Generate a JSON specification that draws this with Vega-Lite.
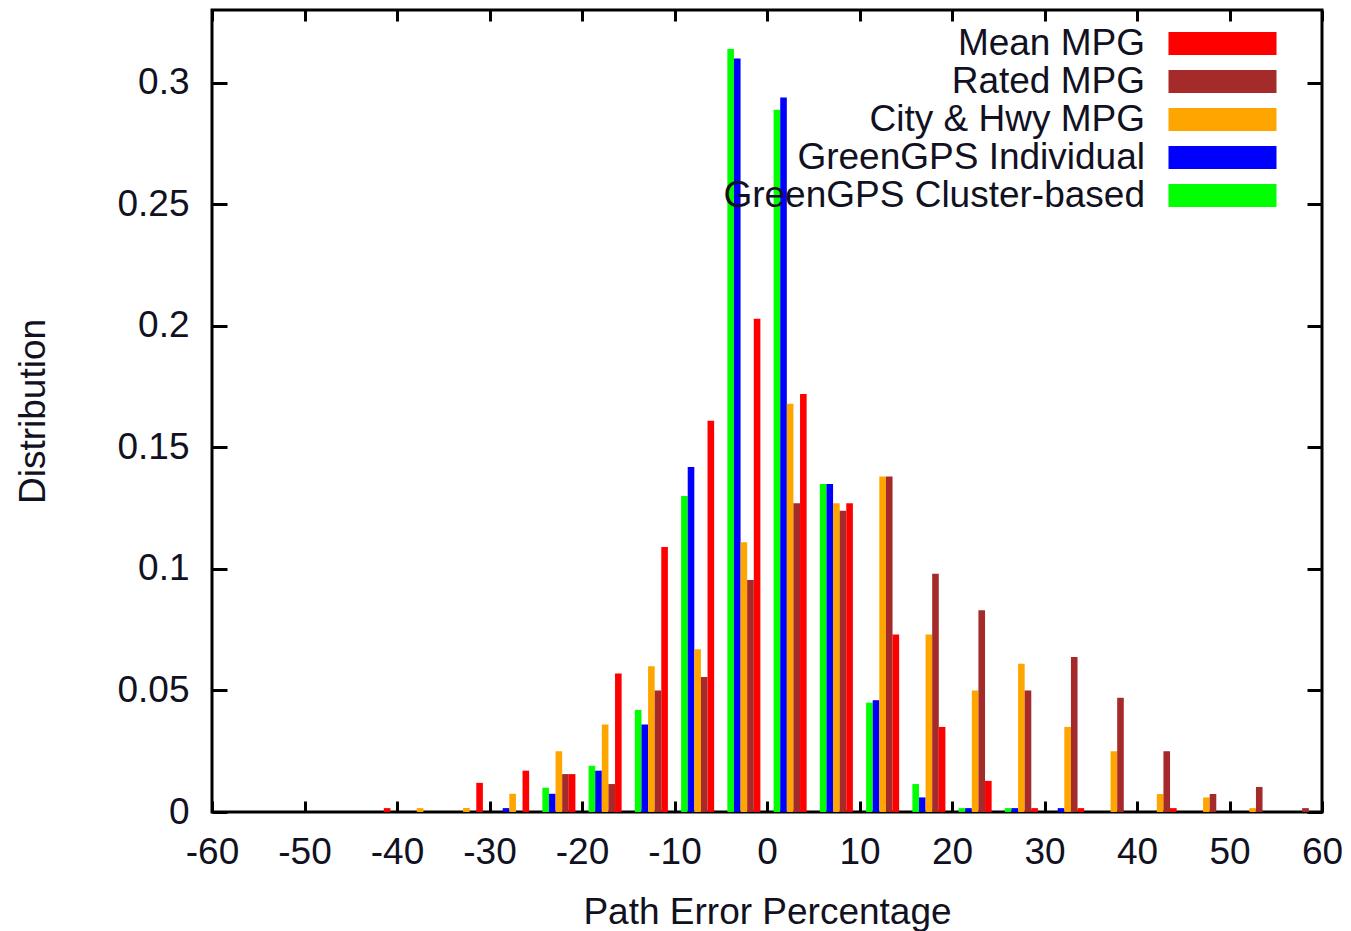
{
  "$schema": "https://vega.github.io/schema/vega-lite/v6.json",
  "width": 1110,
  "height": 802,
  "autosize": {"type": "none"},
  "padding": {"left": 212, "top": 10, "right": 29, "bottom": 119},
  "background": "white",
  "config": {
    "view": {"stroke": "black", "strokeWidth": 3},
    "font": "Liberation Sans",
    "axis": {"labelFont": "Liberation Sans", "titleFont": "Liberation Sans", "labelFontSize": 37, "titleFontSize": 37, "titleFontWeight": "normal", "labelColor": "#111122", "titleColor": "#111122", "domain": false, "grid": false, "tickColor": "black", "tickWidth": 3}
  },
  "data": {
    "values": [
      {"bin": -42.5, "series": "Mean MPG", "v": 0.0016},
      {"bin": -37.5, "series": "City & Hwy MPG", "v": 0.0016},
      {"bin": -32.5, "series": "City & Hwy MPG", "v": 0.0016},
      {"bin": -32.5, "series": "Mean MPG", "v": 0.012},
      {"bin": -27.5, "series": "GreenGPS Individual", "v": 0.0016},
      {"bin": -27.5, "series": "City & Hwy MPG", "v": 0.0075},
      {"bin": -27.5, "series": "Mean MPG", "v": 0.017},
      {"bin": -22.5, "series": "GreenGPS Cluster-based", "v": 0.010},
      {"bin": -22.5, "series": "GreenGPS Individual", "v": 0.0075},
      {"bin": -22.5, "series": "City & Hwy MPG", "v": 0.025},
      {"bin": -22.5, "series": "Rated MPG", "v": 0.0156},
      {"bin": -22.5, "series": "Mean MPG", "v": 0.0156},
      {"bin": -17.5, "series": "GreenGPS Cluster-based", "v": 0.019},
      {"bin": -17.5, "series": "GreenGPS Individual", "v": 0.017},
      {"bin": -17.5, "series": "City & Hwy MPG", "v": 0.036},
      {"bin": -17.5, "series": "Rated MPG", "v": 0.0115},
      {"bin": -17.5, "series": "Mean MPG", "v": 0.057},
      {"bin": -12.5, "series": "GreenGPS Cluster-based", "v": 0.042},
      {"bin": -12.5, "series": "GreenGPS Individual", "v": 0.036},
      {"bin": -12.5, "series": "City & Hwy MPG", "v": 0.060},
      {"bin": -12.5, "series": "Rated MPG", "v": 0.050},
      {"bin": -12.5, "series": "Mean MPG", "v": 0.109},
      {"bin": -7.5, "series": "GreenGPS Cluster-based", "v": 0.130},
      {"bin": -7.5, "series": "GreenGPS Individual", "v": 0.142},
      {"bin": -7.5, "series": "City & Hwy MPG", "v": 0.067},
      {"bin": -7.5, "series": "Rated MPG", "v": 0.0556},
      {"bin": -7.5, "series": "Mean MPG", "v": 0.161},
      {"bin": -2.5, "series": "GreenGPS Cluster-based", "v": 0.314},
      {"bin": -2.5, "series": "GreenGPS Individual", "v": 0.310},
      {"bin": -2.5, "series": "City & Hwy MPG", "v": 0.111},
      {"bin": -2.5, "series": "Rated MPG", "v": 0.0955},
      {"bin": -2.5, "series": "Mean MPG", "v": 0.203},
      {"bin": 2.5, "series": "GreenGPS Cluster-based", "v": 0.289},
      {"bin": 2.5, "series": "GreenGPS Individual", "v": 0.294},
      {"bin": 2.5, "series": "City & Hwy MPG", "v": 0.168},
      {"bin": 2.5, "series": "Rated MPG", "v": 0.127},
      {"bin": 2.5, "series": "Mean MPG", "v": 0.172},
      {"bin": 7.5, "series": "GreenGPS Cluster-based", "v": 0.135},
      {"bin": 7.5, "series": "GreenGPS Individual", "v": 0.135},
      {"bin": 7.5, "series": "City & Hwy MPG", "v": 0.127},
      {"bin": 7.5, "series": "Rated MPG", "v": 0.124},
      {"bin": 7.5, "series": "Mean MPG", "v": 0.127},
      {"bin": 12.5, "series": "GreenGPS Cluster-based", "v": 0.045},
      {"bin": 12.5, "series": "GreenGPS Individual", "v": 0.046},
      {"bin": 12.5, "series": "City & Hwy MPG", "v": 0.138},
      {"bin": 12.5, "series": "Rated MPG", "v": 0.138},
      {"bin": 12.5, "series": "Mean MPG", "v": 0.073},
      {"bin": 17.5, "series": "GreenGPS Cluster-based", "v": 0.0115},
      {"bin": 17.5, "series": "GreenGPS Individual", "v": 0.006},
      {"bin": 17.5, "series": "City & Hwy MPG", "v": 0.073},
      {"bin": 17.5, "series": "Rated MPG", "v": 0.098},
      {"bin": 17.5, "series": "Mean MPG", "v": 0.035},
      {"bin": 22.5, "series": "GreenGPS Cluster-based", "v": 0.0016},
      {"bin": 22.5, "series": "GreenGPS Individual", "v": 0.0016},
      {"bin": 22.5, "series": "City & Hwy MPG", "v": 0.050},
      {"bin": 22.5, "series": "Rated MPG", "v": 0.083},
      {"bin": 22.5, "series": "Mean MPG", "v": 0.0128},
      {"bin": 27.5, "series": "GreenGPS Cluster-based", "v": 0.0016},
      {"bin": 27.5, "series": "GreenGPS Individual", "v": 0.0016},
      {"bin": 27.5, "series": "City & Hwy MPG", "v": 0.061},
      {"bin": 27.5, "series": "Rated MPG", "v": 0.050},
      {"bin": 27.5, "series": "Mean MPG", "v": 0.0016},
      {"bin": 32.5, "series": "GreenGPS Individual", "v": 0.0016},
      {"bin": 32.5, "series": "City & Hwy MPG", "v": 0.035},
      {"bin": 32.5, "series": "Rated MPG", "v": 0.0638},
      {"bin": 32.5, "series": "Mean MPG", "v": 0.0016},
      {"bin": 37.5, "series": "City & Hwy MPG", "v": 0.025},
      {"bin": 37.5, "series": "Rated MPG", "v": 0.047},
      {"bin": 42.5, "series": "City & Hwy MPG", "v": 0.0074},
      {"bin": 42.5, "series": "Rated MPG", "v": 0.025},
      {"bin": 42.5, "series": "Mean MPG", "v": 0.0016},
      {"bin": 47.5, "series": "City & Hwy MPG", "v": 0.006},
      {"bin": 47.5, "series": "Rated MPG", "v": 0.0074},
      {"bin": 52.5, "series": "City & Hwy MPG", "v": 0.0016},
      {"bin": 52.5, "series": "Rated MPG", "v": 0.0103},
      {"bin": 57.5, "series": "Rated MPG", "v": 0.0016}
    ]
  },
  "layer": [
    {
      "mark": {"type": "bar"},
      "encoding": {
        "x": {"field": "bin", "type": "ordinal", "axis": null,
              "scale": {"domain": [-57.5, -52.5, -47.5, -42.5, -37.5, -32.5, -27.5, -22.5, -17.5, -12.5, -7.5, -2.5, 2.5, 7.5, 12.5, 17.5, 22.5, 27.5, 32.5, 37.5, 42.5, 47.5, 52.5, 57.5], "paddingInner": 0, "paddingOuter": 0}},
        "xOffset": {"field": "series", "type": "nominal",
              "scale": {"domain": ["GreenGPS Cluster-based", "GreenGPS Individual", "City & Hwy MPG", "Rated MPG", "Mean MPG"], "paddingInner": 0, "paddingOuter": 1.07}},
        "y": {"field": "v", "type": "quantitative", "axis": null, "scale": {"domain": [0, 0.33], "nice": false, "zero": true}},
        "color": {"field": "series", "type": "nominal",
              "scale": {"domain": ["Mean MPG", "Rated MPG", "City & Hwy MPG", "GreenGPS Individual", "GreenGPS Cluster-based"], "range": ["#ff0000", "#a52a2a", "#ffa500", "#0000ff", "#00ff00"]},
              "legend": {"orient": "none", "legendX": 992, "legendY": 15, "zindex": 0, "title": null, "symbolType": "M-5,-1.065H5V1.065H-5Z", "symbolSize": 466.6, "symbolStrokeWidth": 0, "symbolOpacity": 1, "labelAlign": "right", "labelOffset": -96, "labelFontSize": 37, "labelFont": "Liberation Sans", "labelColor": "#111122", "labelLimit": 0, "rowPadding": 0, "padding": 0}}
      }
    },
    {
      "mark": {"type": "point", "opacity": 0},
      "encoding": {
        "x": {"field": "bin", "type": "quantitative",
              "scale": {"domain": [-60, 60], "nice": false, "zero": false},
              "axis": {"orient": "bottom", "title": "Path Error Percentage", "values": [-60, -50, -40, -30, -20, -10, 0, 10, 20, 30, 40, 50, 60], "labelExpr": "datum.value + ''", "tickSize": -11, "labelPadding": 33, "titlePadding": 24, "labelFlush": false, "labelOverlap": false}},
        "y": {"field": "v", "type": "quantitative",
              "scale": {"domain": [0, 0.33], "nice": false, "zero": true},
              "axis": {"orient": "left", "title": "Distribution", "values": [0, 0.05, 0.1, 0.15, 0.2, 0.25, 0.3], "format": "~g", "tickSize": -15, "labelPadding": 38, "titlePadding": 64, "labelFlush": false, "labelOverlap": false}}
      }
    },
    {
      "mark": {"type": "point", "opacity": 0},
      "encoding": {
        "x": {"field": "bin", "type": "quantitative",
              "scale": {"domain": [-60, 60], "nice": false, "zero": false},
              "axis": {"orient": "top", "title": null, "labels": false, "values": [-60, -50, -40, -30, -20, -10, 0, 10, 20, 30, 40, 50, 60], "tickSize": -11}},
        "y": {"field": "v", "type": "quantitative",
              "scale": {"domain": [0, 0.33], "nice": false, "zero": true},
              "axis": {"orient": "right", "title": null, "labels": false, "values": [0, 0.05, 0.1, 0.15, 0.2, 0.25, 0.3], "tickSize": -15}}
      }
    }
  ],
  "resolve": {"scale": {"x": "independent"}, "axis": {"x": "independent", "y": "independent"}}
}
